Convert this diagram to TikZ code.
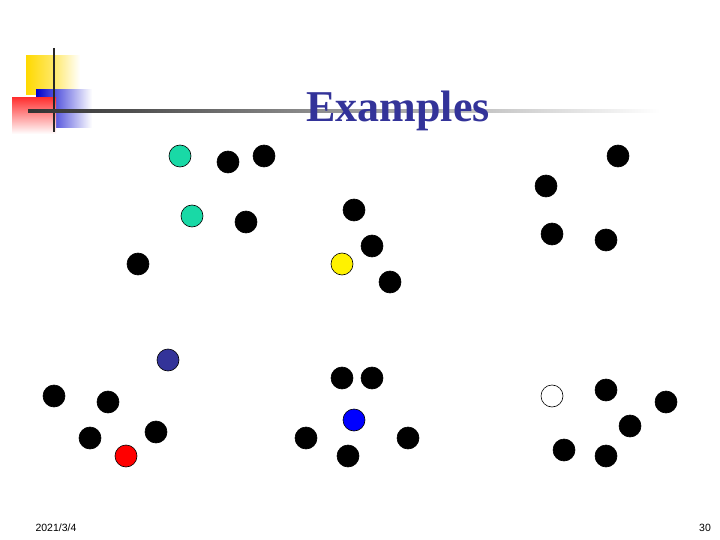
\documentclass[tikz,border=0pt]{standalone}
\usepackage{fontspec}
\setmainfont{Liberation Serif}
\setsansfont{Liberation Sans}
\definecolor{teal2}{HTML}{19D9A6}
\definecolor{navy2}{HTML}{333399}
\begin{document}
\begin{tikzpicture}[x=1pt,y=-1pt,
  dot/.style={circle,draw=black,line width=0.6pt,minimum size=22pt,inner sep=0pt}]
\useasboundingbox (0,0) rectangle (720,540);
% logo
\shade[left color=yellow!70!orange, right color=white, middle color=yellow!70!orange!60] (26,56) rectangle (80,95);
\shade[left color=blue!80!black, right color=white] (36,90) rectangle (92,128);
\shade[top color=red!80, bottom color=white] (12,98) rectangle (56,134);
\draw[line width=2.5pt,black!85] (54,48) -- (54,132);
\shade[left color=black!80, right color=black!70] (28,109.5) rectangle (120,112.5);
\shade[left color=black!70, right color=white] (120,109.5) rectangle (660,112.5);
\node (title) at (398,111) {\fontsize{44}{48}\selectfont\bfseries\color{navy2}Examples};
% dots
\foreach \n/\x/\y/\c in {a/180/156/teal2,b/192/216/teal2,
  c/228/162/black,d/264/156/black,e/246/222/black,f/138/264/black,
  g/354/210/black,h/372/246/black,i/390/282/black,j/342/264/yellow,
  k/546/186/black,l/618/156/black,m/552/234/black,n/606/240/black,
  o/168/360/navy2,p/54/396/black,q/108/402/black,r/90/438/black,s/156/432/black,t/126/456/red,
  u/342/378/black,v/372/378/black,w/306/438/black,x/408/438/black,y/348/456/black,z/354/420/blue,
  aa/552/396/white,ab/606/390/black,ac/666/402/black,ad/630/426/black,ae/564/450/black,af/606/456/black}
  \node[dot,fill=\c] (\n) at (\x,\y) {};
\node (date) at (56,528) {\sffamily\fontsize{10.5}{12}\selectfont 2021/3/4};
\node (page) at (705,528) {\sffamily\fontsize{10.5}{12}\selectfont 30};
\end{tikzpicture}
\end{document}
